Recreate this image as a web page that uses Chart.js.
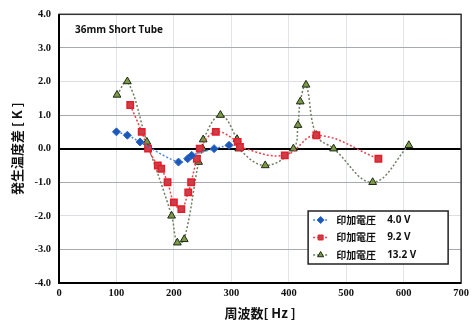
<!DOCTYPE html>
<html>
<head>
<meta charset="utf-8">
<script src="https://cdn.jsdelivr.net/npm/chart.js@4/dist/chart.umd.min.js"></script>
<style>
  html, body { margin: 0; padding: 0; background: #fff; }
  #wrap { width: 473px; height: 321px; }
</style>
</head>
<body>
<div id="wrap"><canvas id="grafico"></canvas></div>
<script>
// 4.0 V
const azulX = [100, 119, 141, 208, 224, 231, 270, 296];
const azulY = [0.5, 0.4, 0.2, -0.4, -0.3, -0.2, 0.0, 0.1];
// 9.2 V
const rojoX = [124, 144, 155, 172, 178, 189, 200, 213, 225, 230, 240, 245, 273, 311, 315, 393, 448, 556];
const rojoY = [1.3, 0.5, 0.0, -0.5, -0.6, -1.0, -1.6, -1.8, -1.3, -1.0, -0.3, 0.0, 0.5, 0.2, 0.05, -0.2, 0.4, -0.3];
// 13.2 V
const verdeX = [101, 119, 153, 196, 206, 218, 243, 250, 251, 281, 310, 313, 359, 408, 416, 420, 430, 448, 478, 546, 609];
const verdeY = [1.6, 2.0, 0.2, -2.0, -2.8, -2.7, -0.4, 0.0, 0.27, 1.0, 0.28, 0.0, -0.5, 0.0, 0.7, 1.4, 1.9, 0.4, 0.0, -1.0, 0.1];

const etiquetas = ["印加電圧", "印加電圧", "印加電圧"];
const voltajes = ["4.0 V", "9.2 V", "13.2 V"];
const titulo = "36mm Short Tube";
const tituloX = "周波数[ Hz ]";
const tituloY = "発生温度差 [ K ]";

function puntos(xs, ys) {
  return xs.map((x, i) => ({ x: x, y: ys[i] }));
}

const fuenteTick = { family: "'Liberation Serif', serif", size: 10.5, weight: "bold" };

const marco = {
  id: "marco",
  afterDraw(chart) {
    const ctx = chart.ctx;
    const a = chart.chartArea;
    ctx.save();
    ctx.strokeStyle = "#333";
    ctx.lineWidth = 1.5;
    ctx.strokeRect(a.left, a.top, a.right - a.left, a.bottom - a.top);
    ctx.strokeStyle = "#000";
    ctx.lineWidth = 2;
    ctx.beginPath();
    ctx.moveTo(a.left, a.top);
    ctx.lineTo(a.left, a.bottom);
    ctx.lineTo(a.right, a.bottom);
    ctx.stroke();

    // titulo
    ctx.fillStyle = "#111";
    ctx.font = "bold 10px 'Open Sans', sans-serif";
    ctx.textBaseline = "middle";
    ctx.fillText(titulo, a.left + 16, a.top + 16);

    // leyenda
    const lx = a.right - 153, ly = a.bottom - 72, lw = 140, lh = 53;
    ctx.fillStyle = "#fff";
    ctx.fillRect(lx, ly, lw, lh);
    ctx.strokeStyle = "#222";
    ctx.lineWidth = 1.5;
    ctx.strokeRect(lx, ly, lw, lh);
    chart.data.datasets.forEach((ds, i) => {
      const y = ly + 9 + i * 17.5;
      ctx.strokeStyle = ds.borderColor;
      ctx.lineWidth = 1.5;
      ctx.setLineDash([2, 2]);
      ctx.beginPath();
      ctx.moveTo(lx + 5, y);
      ctx.lineTo(lx + 20, y);
      ctx.stroke();
      ctx.setLineDash([]);
      ctx.fillStyle = ds.pointBackgroundColor;
      ctx.strokeStyle = ds.pointBorderColor;
      ctx.lineWidth = 1;
      Chart.helpers.drawPoint(ctx, { pointStyle: ds.pointStyle, radius: 3.5, rotation: 0, borderWidth: 1 }, lx + 12.5, y);
      ctx.fillStyle = "#111";
      ctx.font = "bold 10px 'Noto Sans CJK JP', sans-serif";
      ctx.fillText(etiquetas[i], lx + 28, y);
      ctx.font = "bold 10px 'Open Sans', sans-serif";
      ctx.fillText(voltajes[i], lx + 79, y);
    });
    ctx.restore();
  }
};

new Chart(document.getElementById("grafico"), {
  type: "line",
  data: {
    datasets: [
      {
        label: etiquetas[0] + " " + voltajes[0],
        data: puntos(azulX, azulY),
        borderColor: "#4a86d8",
        borderWidth: 1.5,
        borderDash: [2, 2],
        pointStyle: "rectRot",
        pointRadius: 4,
        pointBackgroundColor: "#1c58b8",
        pointBorderColor: "#2a66c8",
        pointBorderWidth: 1,
        tension: 0.4
      },
      {
        label: etiquetas[1] + " " + voltajes[1],
        data: puntos(rojoX, rojoY),
        borderColor: "#e8424c",
        borderWidth: 1.5,
        borderDash: [2, 2],
        pointStyle: "rect",
        pointRadius: 4.5,
        pointBackgroundColor: "#c8404a",
        pointBorderColor: "#e81c28",
        pointBorderWidth: 1.5,
        tension: 0.4
      },
      {
        label: etiquetas[2] + " " + voltajes[2],
        data: puntos(verdeX, verdeY),
        borderColor: "#6e8060",
        borderWidth: 1.5,
        borderDash: [2, 2],
        pointStyle: "triangle",
        pointRadius: 4.5,
        pointBackgroundColor: "#7a9a48",
        pointBorderColor: "#1e2a14",
        pointBorderWidth: 1,
        tension: 0.4
      }
    ]
  },
  options: {
    responsive: true,
    maintainAspectRatio: false,
    animation: false,
    layout: { padding: { left: 9, right: 8, top: 12, bottom: 0 } },
    plugins: { legend: { display: false }, tooltip: { enabled: false } },
    scales: {
      x: {
        type: "linear",
        min: 0,
        max: 700,
        ticks: { stepSize: 100, color: "#111", font: fuenteTick, padding: 4 },
        grid: { color: "#e2e4ea", lineWidth: 1, drawTicks: false },
        border: { display: false },
        title: {
          display: true,
          text: tituloX,
          color: "#111",
          font: { family: "'Noto Sans CJK JP', sans-serif", size: 13, weight: "bold" },
          padding: { top: 0, bottom: 0 }
        },
        afterFit(s) { s.height = 38; }
      },
      y: {
        min: -4,
        max: 4,
        ticks: {
          stepSize: 1,
          color: "#111",
          font: fuenteTick,
          padding: 8,
          callback: (v) => v.toFixed(1)
        },
        grid: {
          color: (c) => (c.tick.value === 0 ? "#000" : (c.tick.value % 2 !== 0 ? "#a8aab2" : "#dcdee4")),
          lineWidth: (c) => (c.tick.value === 0 ? 2 : 1),
          drawTicks: false
        },
        border: { display: false },
        title: {
          display: true,
          text: tituloY,
          color: "#111",
          font: { family: "'Noto Sans CJK JP', sans-serif", size: 13, weight: "bold" },
          padding: { top: 0, bottom: 2 }
        },
        afterFit(s) { s.width = 50; }
      }
    }
  },
  plugins: [marco]
});
</script>
</body>
</html>
